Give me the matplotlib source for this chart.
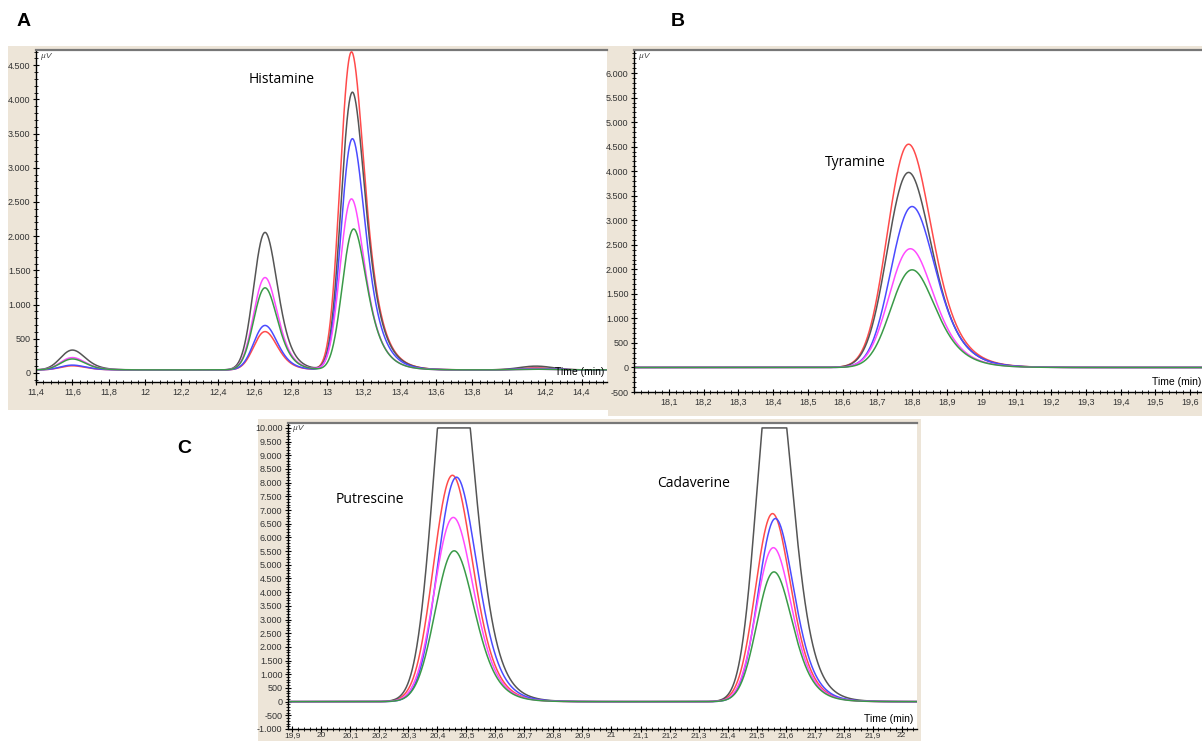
import numpy as np
import matplotlib
matplotlib.use("Agg")
import matplotlib.pyplot as plt
from matplotlib.patches import Rectangle
from matplotlib.ticker import MultipleLocator, FuncFormatter

# ---------------- data ----------------
series_names = ["red", "black", "blue", "magenta", "green"]
series_colors = ["#FF4B4B", "#555555", "#4B4BFF", "#FF4BFF", "#3A9A48"]

# Panel A (Histamine region)
A_peak1_time = 11.60
A_peak1_heights = [60, 290, 70, 180, 160]
A_peak2_time = 12.66
A_peak2_heights = [560, 2010, 650, 1350, 1200]
A_hist_times = [13.135, 13.140, 13.140, 13.135, 13.147]
A_hist_heights = [4650, 4060, 3380, 2500, 2060]
A_bump_time = 14.15
A_bump_heights = [30, 55, 20, 10, 10]
A_baseline = 45

# Panel B (Tyramine)
B_tyr_times = [18.790, 18.790, 18.800, 18.795, 18.800]
B_tyr_heights = [4550, 3975, 3280, 2420, 1990]

# Panel C (Putrescine, Cadaverine) -- detector saturates at 10000
C_put_times = [20.452, 20.455, 20.466, 20.455, 20.458]
C_put_heights = [8270, 14200, 8200, 6730, 5510]
C_cad_times = [21.555, 21.560, 21.565, 21.558, 21.560]
C_cad_heights = [6870, 12800, 6690, 5625, 4740]
C_saturation = 10000

A_xticks = [11.4, 11.6, 11.8, 12.0, 12.2, 12.4, 12.6, 12.8, 13.0, 13.2, 13.4, 13.6, 13.8, 14.0, 14.2, 14.4]
B_xticks = [18.1, 18.2, 18.3, 18.4, 18.5, 18.6, 18.7, 18.8, 18.9, 19.0, 19.1, 19.2, 19.3, 19.4, 19.5, 19.6]
C_xticks = [19.9, 20.0, 20.1, 20.2, 20.3, 20.4, 20.5, 20.6, 20.7, 20.8, 20.9, 21.0, 21.1, 21.2,
            21.3, 21.4, 21.5, 21.6, 21.7, 21.8, 21.9, 22.0]
A_yticks = [0, 500, 1000, 1500, 2000, 2500, 3000, 3500, 4000, 4500]
B_yticks = [-500, 0, 500, 1000, 1500, 2000, 2500, 3000, 3500, 4000, 4500, 5000, 5500, 6000]
C_yticks = [-1000, -500, 0, 500, 1000, 1500, 2000, 2500, 3000, 3500, 4000, 4500, 5000,
            5500, 6000, 6500, 7000, 7500, 8000, 8500, 9000, 9500, 10000]

# ---------------- peak shape (exponentially tailed gaussian) ----------------
def peak_shape(t, center, sigma, tau):
    dt = t[1] - t[0]
    g = np.exp(-0.5 * ((t - center) / sigma) ** 2)
    k = np.exp(-np.arange(0, 12 * tau, dt) / tau)
    y = np.convolve(g, k)[: len(t)]
    y = y / y.max()
    shift = t[np.argmax(y)] - center
    return np.interp(t + shift, t, y, left=0, right=0)

BEIGE = "#EDE5D8"
fig = plt.figure(figsize=(12.02, 7.41), dpi=100)
W, H = 1202, 741

def px_rect(x0, y0, x1, y1, **kw):
    fig.patches.append(Rectangle((x0 / W, 1 - y1 / H), (x1 - x0) / W, (y1 - y0) / H,
                                 transform=fig.transFigure, zorder=0, **kw))

def px_axes(x0, y0, x1, y1):
    ax = fig.add_axes([x0 / W, 1 - y1 / H, (x1 - x0) / W, (y1 - y0) / H])
    ax.set_zorder(5)
    return ax

px_rect(8, 46, 610, 410, facecolor=BEIGE, edgecolor="none")
px_rect(608, 46, 1202, 416, facecolor=BEIGE, edgecolor="none")
px_rect(258, 419, 921, 741, facecolor=BEIGE, edgecolor="none")

TICK_FONT = ["Liberation Sans Narrow", "Liberation Sans", "DejaVu Sans"]

def fmt_y(v, pos):
    s = f"{abs(int(round(v))):,}".replace(",", ".")
    return ("-" if v < 0 else "") + s

def fmt_x(v, pos):
    s = f"{v:.1f}"
    if s.endswith(".0"):
        s = s[:-2]
    return s.replace(".", ",")

def style_axes(ax, xlim, ylim, xticks, yticks, xminor, yminor, xpad=2):
    ax.set_xlim(*xlim)
    ax.set_ylim(*ylim)
    ax.set_facecolor("white")
    ax.set_xticks(xticks)
    ax.set_yticks(yticks)
    ax.xaxis.set_minor_locator(MultipleLocator(xminor))
    ax.yaxis.set_minor_locator(MultipleLocator(yminor))
    ax.xaxis.set_major_formatter(FuncFormatter(fmt_x))
    ax.yaxis.set_major_formatter(FuncFormatter(fmt_y))
    ax.spines["right"].set_visible(False)
    ax.spines["top"].set_color("#777777")
    ax.spines["top"].set_linewidth(1.6)
    ax.spines["left"].set_linewidth(1.0)
    ax.spines["bottom"].set_linewidth(1.0)
    ax.tick_params(which="major", direction="inout", length=4, width=0.8, labelsize=6.5, pad=2)
    ax.tick_params(axis="x", which="major", pad=xpad)
    ax.tick_params(which="minor", direction="inout", length=2.2, width=0.6)
    for lab in ax.get_xticklabels() + ax.get_yticklabels():
        lab.set_family(TICK_FONT)
        lab.set_color("#333333")
    ax.text(0.008, 0.992, "µV", transform=ax.transAxes, ha="left", va="top",
            fontsize=6, style="italic", color="#444444", family=TICK_FONT)

# ---------------- Panel A ----------------
axA = px_axes(36, 50, 607, 382)
tA = np.arange(11.3, 14.7, 0.001)
for i, c in enumerate(series_colors):
    y = (A_baseline
         + A_peak1_heights[i] * peak_shape(tA, A_peak1_time, 0.058, 0.05)
         + A_peak2_heights[i] * peak_shape(tA, A_peak2_time, 0.055, 0.05)
         + A_hist_heights[i] * peak_shape(tA, A_hist_times[i], 0.052, 0.068)
         + A_bump_heights[i] * peak_shape(tA, A_bump_time, 0.09, 0.02))
    axA.plot(tA, y, color=c, lw=1.1)
style_axes(axA, (11.4, 14.54), (-132, 4722), A_xticks, A_yticks, 0.04, 100)
axA.text(0.43, 0.9, "Histamine", transform=axA.transAxes, fontsize=10, family="Open Sans", ha="center")
axA.text(0.995, 0.015, "Time (min)", transform=axA.transAxes, fontsize=7.5, ha="right", va="bottom",
         family=TICK_FONT)

# ---------------- Panel B ----------------
axB = px_axes(634, 50, 1202, 392)
tB = np.arange(17.9, 19.7, 0.001)
for i, c in enumerate(series_colors):
    y = B_tyr_heights[i] * peak_shape(tB, B_tyr_times[i], 0.053, 0.052)
    axB.plot(tB, y, color=c, lw=1.1)
style_axes(axB, (18.0, 19.634), (-500, 6470), B_xticks, B_yticks, 0.02, 100)
axB.text(0.39, 0.66, "Tyramine", transform=axB.transAxes, fontsize=10, family="Open Sans", ha="center")
axB.text(0.999, 0.015, "Time (min)", transform=axB.transAxes, fontsize=7.5, ha="right", va="bottom",
         family=TICK_FONT)

# ---------------- Panel C ----------------
axC = px_axes(288, 423, 917, 729)
tC = np.arange(19.8, 22.2, 0.001)
for i, c in enumerate(series_colors):
    y = (C_put_heights[i] * peak_shape(tC, C_put_times[i], 0.058, 0.047)
         + C_cad_heights[i] * peak_shape(tC, C_cad_times[i], 0.052, 0.044))
    y = np.minimum(y, C_saturation)
    axC.plot(tC, y, color=c, lw=1.1)
style_axes(axC, (19.885, 22.053), (-1000, 10180), C_xticks, C_yticks, 0.02, 100, xpad=0.3)
for lab in axC.get_xticklabels():
    lab.set_fontsize(6)
axC.text(0.13, 0.74, "Putrescine", transform=axC.transAxes, fontsize=10, family="Open Sans", ha="center")
axC.text(0.645, 0.79, "Cadaverine", transform=axC.transAxes, fontsize=10, family="Open Sans", ha="center")
axC.text(0.995, 0.015, "Time (min)", transform=axC.transAxes, fontsize=7.5, ha="right", va="bottom",
         family=TICK_FONT)

# ---------------- panel letters ----------------
fig.text(24 / W, 1 - 22 / H, "A", fontsize=14, fontweight="bold", ha="center", va="center", family="Liberation Sans")
fig.text(678 / W, 1 - 22 / H, "B", fontsize=14, fontweight="bold", ha="center", va="center", family="Liberation Sans")
fig.text(184 / W, 1 - 448 / H, "C", fontsize=14, fontweight="bold", ha="center", va="center", family="Liberation Sans")

fig.savefig("out.png", dpi=100)
